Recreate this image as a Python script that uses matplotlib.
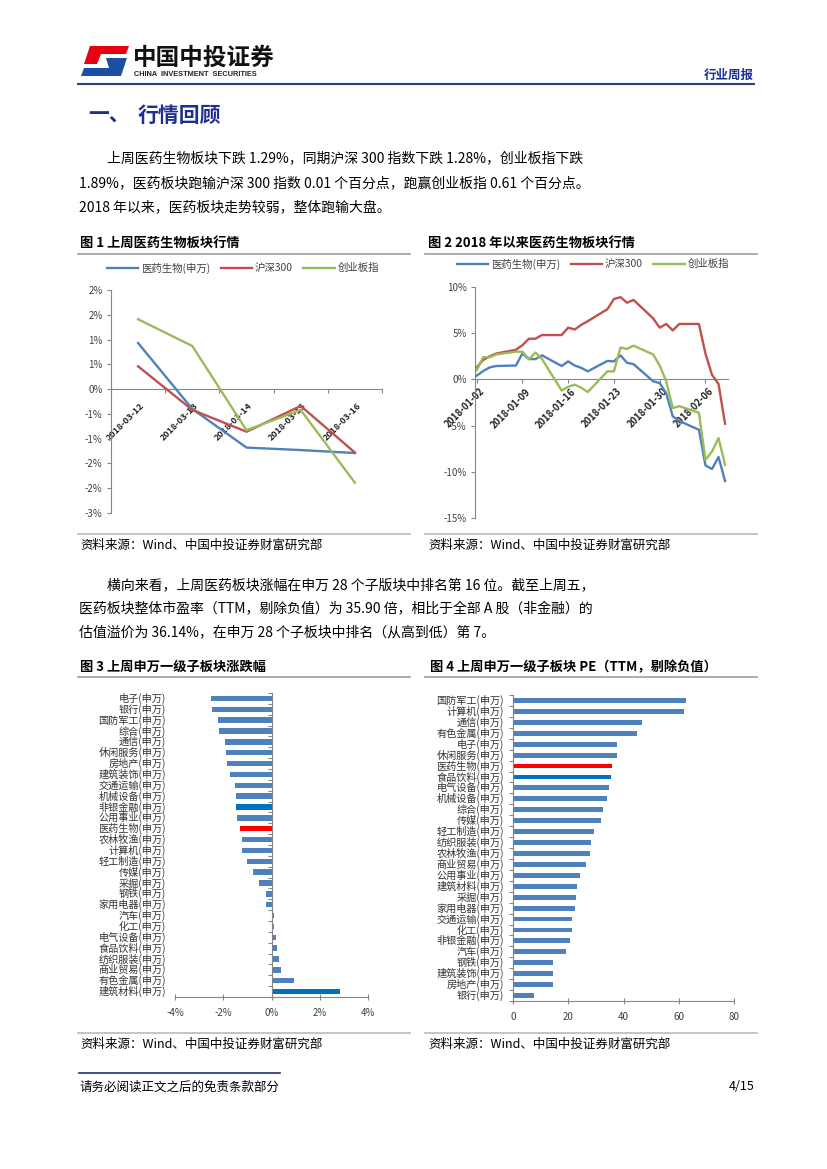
import numpy as np
import matplotlib
matplotlib.use("Agg")
import matplotlib.pyplot as plt
from matplotlib.lines import Line2D
from matplotlib.patches import Polygon

plt.rcParams["font.family"] = ["Noto Sans CJK SC", "DejaVu Sans"]
plt.rcParams["axes.unicode_minus"] = False

# ---- data: chart 1 (last week, cumulative %) ----
dates1 = ["2018-03-12", "2018-03-13", "2018-03-14", "2018-03-15", "2018-03-16"]
yiyao1 = [0.93, -0.40, -1.18, -1.23, -1.29]
hs300_1 = [0.46, -0.42, -0.86, -0.34, -1.28]
cyb1 = [1.41, 0.87, -0.83, -0.42, -1.89]

# ---- data: chart 2 (since 2018, cumulative %) ----
dates2 = ["2018-01-02", "2018-01-03", "2018-01-04", "2018-01-05", "2018-01-08",
          "2018-01-09", "2018-01-10", "2018-01-11", "2018-01-12", "2018-01-15",
          "2018-01-16", "2018-01-17", "2018-01-18", "2018-01-19", "2018-01-22",
          "2018-01-23", "2018-01-24", "2018-01-25", "2018-01-26", "2018-01-29",
          "2018-01-30", "2018-01-31", "2018-02-01", "2018-02-02", "2018-02-05",
          "2018-02-06", "2018-02-07", "2018-02-08", "2018-02-09"]
yiyao2 = [0.4, 0.9, 1.3, 1.45, 1.5, 2.8, 2.2, 2.2, 2.6, 1.45, 1.95, 1.5, 1.25, 0.87,
          2.0, 1.95, 2.6, 1.8, 1.65, -0.2, -0.4, -1.5, -4.0, -4.5, -5.45, -9.3,
          -9.7, -8.4, -11.0]
hs300_2 = [1.3, 2.1, 2.5, 2.8, 3.2, 3.7, 4.4, 4.4, 4.8, 4.8, 5.6, 5.4, 5.9, 6.3,
           7.6, 8.7, 8.9, 8.3, 8.6, 6.6, 5.6, 6.0, 5.3, 6.0, 6.0, 2.8, 0.5, -0.5, -4.8]
cyb2 = [0.97, 2.4, 2.4, 2.7, 3.0, 3.0, 2.2, 2.9, 2.2, -1.2, -0.8, -0.57, -0.9, -1.37,
        0.87, 0.87, 3.45, 3.3, 3.65, 2.7, 1.5, -0.2, -3.1, -2.9, -3.6, -8.7, -7.8,
        -6.35, -9.25]
date_ticks2 = ["2018-01-02", "2018-01-09", "2018-01-16", "2018-01-23", "2018-01-30", "2018-02-06"]

# ---- data: chart 3 (weekly change %, top to bottom) ----
sectors3 = ["电子", "银行", "国防军工", "综合", "通信", "休闲服务", "房地产", "建筑装饰",
            "交通运输", "机械设备", "非银金融", "公用事业", "医药生物", "农林牧渔", "计算机",
            "轻工制造", "传媒", "采掘", "钢铁", "家用电器", "汽车", "化工", "电气设备",
            "食品饮料", "纺织服装", "商业贸易", "有色金属", "建筑材料"]
change3 = [-2.52, -2.48, -2.22, -2.19, -1.94, -1.87, -1.83, -1.72, -1.52, -1.49, -1.48,
           -1.45, -1.29, -1.24, -1.21, -1.03, -0.78, -0.52, -0.23, -0.21, 0.10, 0.09,
           0.18, 0.23, 0.32, 0.41, 0.92, 2.84]
dark3 = ["非银金融", "建筑材料"]

# ---- data: chart 4 (PE TTM, top to bottom) ----
sectors4 = ["国防军工", "计算机", "通信", "有色金属", "电子", "休闲服务", "医药生物", "食品饮料",
            "电气设备", "机械设备", "综合", "传媒", "轻工制造", "纺织服装", "农林牧渔", "商业贸易",
            "公用事业", "建筑材料", "采掘", "家用电器", "交通运输", "化工", "非银金融", "汽车",
            "钢铁", "建筑装饰", "房地产", "银行"]
pe4 = [62.5, 61.9, 46.7, 44.9, 37.8, 37.6, 35.9, 35.6, 34.6, 33.9, 32.4, 32.0, 29.2,
       28.2, 27.9, 26.3, 24.1, 23.3, 22.9, 22.6, 21.5, 21.5, 20.8, 19.2, 14.6, 14.6,
       14.5, 7.6]
dark4 = ["食品饮料"]

BLUE, RED, GREEN = "#4F81BD", "#C0504D", "#9BBB59"
DARKBLUE, HIRED = "#0070C0", "#FF0000"
NAVY = "#1F2F8F"
AXC, LBC = "#868686", "#404040"

W, H = 827, 1169
fig = plt.figure(figsize=(W / 100, H / 100), dpi=100)
fig.patch.set_facecolor("white")


def ftext(x, y, s, **kw):
    fig.text(x / W, 1 - y / H, s, **kw)


def fline(x0, x1, y, color, lw):
    fig.add_artist(Line2D([x0 / W, x1 / W], [1 - y / H, 1 - y / H],
                          transform=fig.transFigure, color=color, lw=lw))


def fpoly(pts, color):
    fig.add_artist(Polygon([(x / W, 1 - y / H) for x, y in pts], closed=True,
                           transform=fig.transFigure, facecolor=color, lw=0))


def add_ax(l, t, r, b):
    return fig.add_axes([l / W, 1 - b / H, (r - l) / W, (b - t) / H])


def excel_pct(v):
    r = int(np.sign(v) * np.floor(abs(v) + 0.5))
    return f"{r}%"


# ---- header ----
fpoly([(90, 46), (129, 46), (126, 54), (101, 54), (97, 64), (84, 64)], "#E60012")
fpoly([(106, 58), (127, 58), (121, 76), (81, 76), (84, 68), (109, 68)], "#1D4FA0")
ftext(133, 58, "中国中投证券", fontsize=17, fontweight="bold", va="center", color="#111111")
ftext(134, 74, "CHINA  INVESTMENT  SECURITIES", fontsize=5.3, fontweight="bold",
      va="center", color="#222222", family=["Liberation Sans", "DejaVu Sans"])
ftext(754, 75, "行业周报", fontsize=9, fontweight="bold", va="center", ha="right", color=NAVY)
fline(78, 754, 84, "#2E3A87", 1.5)

ftext(88, 115, "一、", fontsize=15, fontweight="bold", va="center", color=NAVY)
ftext(138, 115, "行情回顾", fontsize=15, fontweight="bold", va="center", color=NAVY)

para1 = ["上周医药生物板块下跌 1.29%，同期沪深 300 指数下跌 1.28%，创业板指下跌",
         "1.89%，医药板块跑输沪深 300 指数 0.01 个百分点，跑赢创业板指 0.61 个百分点。",
         "2018 年以来，医药板块走势较弱，整体跑输大盘。"]
for i, (line, y) in enumerate(zip(para1, [158, 183, 207])):
    ftext(107 if i == 0 else 79, y, line, fontsize=10, va="center", color="black")

para2 = ["横向来看，上周医药板块涨幅在申万 28 个子版块中排名第 16 位。截至上周五，",
         "医药板块整体市盈率（TTM，剔除负值）为 35.90 倍，相比于全部 A 股（非金融）的",
         "估值溢价为 36.14%，在申万 28 个子板块中排名（从高到低）第 7。"]
for i, (line, y) in enumerate(zip(para2, [585, 609, 632])):
    ftext(107 if i == 0 else 79, y, line, fontsize=10, va="center", color="black")

# ---- figure titles / source lines ----
ftext(80, 243, "图 1 上周医药生物板块行情", fontsize=9.5, fontweight="bold", va="center")
ftext(428, 243, "图 2 2018 年以来医药生物板块行情", fontsize=9.5, fontweight="bold", va="center")
ftext(80, 667, "图 3 上周申万一级子板块涨跌幅", fontsize=9.5, fontweight="bold", va="center")
ftext(430, 667, "图 4 上周申万一级子板块 PE（TTM，剔除负值）", fontsize=9.5,
      fontweight="bold", va="center")
for y in (254, 677):
    fline(78, 410, y, "#A6A6A6", 1.3)
    fline(425, 757, y, "#A6A6A6", 1.3)
for y, ys in ((534, 545), (1033, 1044)):
    fline(78, 410, y, "#BFBFBF", 1.3)
    fline(425, 757, y, "#BFBFBF", 1.3)
    ftext(80, ys, "资料来源：Wind、中国中投证券财富研究部", fontsize=9, va="center")
    ftext(428, ys, "资料来源：Wind、中国中投证券财富研究部", fontsize=9, va="center")

# ---- footer ----
fline(79, 280, 1073, "#1F2F6F", 1.2)
ftext(80, 1087, "请务必阅读正文之后的免责条款部分", fontsize=9, va="center")
ftext(755, 1087, "4/15", fontsize=9, va="center", ha="right")


def style_line_axes(ax):
    for s in ("top", "right"):
        ax.spines[s].set_visible(False)
    ax.spines["left"].set_color(AXC)
    ax.spines["bottom"].set_color(AXC)
    ax.spines["bottom"].set_position(("data", 0))
    ax.tick_params(axis="y", colors=AXC, labelcolor=LBC, labelsize=7, length=3, pad=3)
    ax.tick_params(axis="x", colors=AXC, length=3, labelbottom=False)
    ax.set_facecolor("none")


# ---- chart 1 ----
ax1 = add_ax(111, 290, 382, 513)
x1 = np.arange(len(dates1))
ax1.plot(x1, yiyao1, color=BLUE, lw=1.7, label="医药生物(申万)", zorder=3)
ax1.plot(x1, hs300_1, color=RED, lw=1.7, label="沪深300", zorder=3)
ax1.plot(x1, cyb1, color=GREEN, lw=1.7, label="创业板指", zorder=3)
ax1.set_xlim(-0.5, len(dates1) - 0.5)
ax1.set_ylim(-2.5, 2.0)
yt1 = np.arange(-2.5, 2.01, 0.5)
ax1.set_yticks(yt1)
ax1.set_yticklabels([excel_pct(v) for v in yt1])
ax1.set_xticks(np.arange(-0.5, len(dates1), 1))
style_line_axes(ax1)
for i, d in enumerate(dates1):
    ax1.annotate(d, (i, 0), xytext=(1, -9), textcoords="offset points", rotation=45,
                 ha="right", va="top", rotation_mode="anchor", fontsize=6.5,
                 fontweight="bold", color="#222222", zorder=1)
ax1.legend(loc="center", bbox_to_anchor=(243 / W, 1 - 268 / H), bbox_transform=fig.transFigure,
           ncol=3, frameon=False, fontsize=7.5, handlelength=3.0, handletextpad=0.3,
           columnspacing=1.0, labelcolor=LBC)

# ---- chart 2 ----
ax2 = add_ax(475, 287, 728, 518)
base = np.datetime64("2018-01-02")
x2 = (np.array(dates2, dtype="datetime64[D]") - base).astype(int)
ax2.plot(x2, yiyao2, color=BLUE, lw=1.7, label="医药生物(申万)", zorder=3)
ax2.plot(x2, hs300_2, color=RED, lw=1.7, label="沪深300", zorder=3)
ax2.plot(x2, cyb2, color=GREEN, lw=1.7, label="创业板指", zorder=3)
ax2.set_xlim(-0.25, 38.45)
ax2.set_ylim(-15, 10)
yt2 = np.arange(-15, 11, 5)
ax2.set_yticks(yt2)
ax2.set_yticklabels([f"{v}%" for v in yt2])
xt2 = (np.array(date_ticks2, dtype="datetime64[D]") - base).astype(int)
ax2.set_xticks(xt2)
style_line_axes(ax2)
for xv, d in zip(xt2, date_ticks2):
    ax2.annotate(d, (xv, 0), xytext=(2, -5), textcoords="offset points", rotation=45,
                 ha="right", va="top", rotation_mode="anchor", fontsize=6.8,
                 fontweight="bold", color="#222222", zorder=1)
ax2.legend(loc="center", bbox_to_anchor=(593 / W, 1 - 264 / H), bbox_transform=fig.transFigure,
           ncol=3, frameon=False, fontsize=7.5, handlelength=3.0, handletextpad=0.3,
           columnspacing=1.0, labelcolor=LBC)


def style_bar_axes(ax, n):
    for s in ("top", "right"):
        ax.spines[s].set_visible(False)
    ax.spines["left"].set_color(AXC)
    ax.spines["bottom"].set_color(AXC)
    ax.set_ylim(n - 0.5, -0.5)
    ax.set_yticks(np.arange(-0.5, n, 1))
    ax.set_yticklabels([])
    ax.tick_params(axis="y", colors=AXC, length=3)
    ax.tick_params(axis="x", colors=AXC, labelcolor=LBC, labelsize=7, length=4,
                   direction="inout", pad=6)
    ax.set_facecolor("none")


# ---- chart 3 ----
ax3 = add_ax(175, 693, 368, 997)
y3 = np.arange(len(sectors3))
col3 = [HIRED if s == "医药生物" else (DARKBLUE if s in dark3 else BLUE) for s in sectors3]
ax3.barh(y3, change3, height=0.5, color=col3, zorder=2)
ax3.set_xlim(-4, 4)
xt3 = np.arange(-4, 5, 2)
ax3.set_xticks(xt3)
ax3.set_xticklabels([f"{v}%" for v in xt3])
style_bar_axes(ax3, len(sectors3))
ax3.spines["left"].set_position(("data", 0))
for yi, s in zip(y3, sectors3):
    ax3.text(-9 / 193, yi, f"{s}(申万)", transform=ax3.get_yaxis_transform(), ha="right",
             va="center", fontsize=7.3, color="#333333")

# ---- chart 4 ----
ax4 = add_ax(513, 695, 734, 1001)
y4 = np.arange(len(sectors4))
col4 = [HIRED if s == "医药生物" else (DARKBLUE if s in dark4 else BLUE) for s in sectors4]
ax4.barh(y4, pe4, height=0.45, color=col4, zorder=2)
ax4.set_xlim(0, 80)
ax4.set_xticks(np.arange(0, 81, 20))
style_bar_axes(ax4, len(sectors4))
for yi, s in zip(y4, sectors4):
    ax4.text(-9 / 221, yi, f"{s}(申万)", transform=ax4.get_yaxis_transform(), ha="right",
             va="center", fontsize=7.3, color="#333333")

fig.savefig("out.png", dpi=100)
